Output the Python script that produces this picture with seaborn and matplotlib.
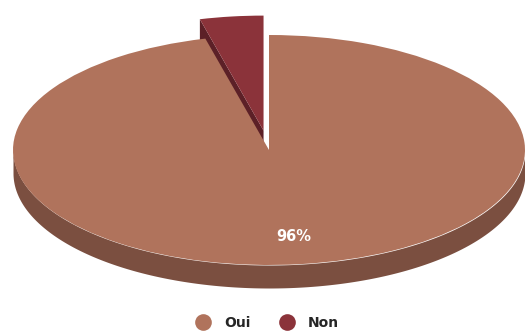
import numpy as np
import matplotlib
matplotlib.use("Agg")
import matplotlib.pyplot as plt
from matplotlib.lines import Line2D
from matplotlib.patches import Polygon
import seaborn as sns

# Survey answers (percent)
categories = ["Oui", "Non"]
shares = [96, 4]
explode = [0.0, 0.17]

top_colors = ["#B0735C", "#8B333A"]
side_colors = ["#7B4F40", "#5C2027"]

sns.set_theme(style="white")
plt.rcParams["font.family"] = ["DejaVu Sans"]

W, H = 525, 331
fig = plt.figure(figsize=(W / 100, H / 100), dpi=100)
ax = fig.add_axes([0, 0, 1, 1])

# Ellipse geometry of the tilted disc (pixels)
cx, cy, rx, ry = 269, 150, 256, 115
depth = 23 / ry  # thickness in data units

start = 90
total = sum(shares)

# Side wall of the front half of the disc
th = np.linspace(np.pi, 2 * np.pi, 400)
xs, ys = np.cos(th), np.sin(th)
ax.fill_between(xs, ys - depth, ys, color=side_colors[0], lw=0, zorder=1)

# Cut face of the exploded slice along its left radial edge.
# Slices run clockwise from the top, so the last slice sits just left of 12 o'clock.
for i, (v, e) in enumerate(zip(shares, explode)):
    if e == 0:
        continue
    lo = start
    hi = start + 360 * v / total
    mid = np.deg2rad((lo + hi) / 2)
    c = np.array([e * np.cos(mid), e * np.sin(mid)])
    edge = np.deg2rad(hi)
    rim = c + np.array([np.cos(edge), np.sin(edge)])
    quad = [c, rim, rim - [0, depth], c - [0, depth]]
    ax.add_patch(Polygon(quad, closed=True, color=side_colors[i], lw=0, zorder=2))

wedges, texts, autotexts = ax.pie(
    shares,
    explode=explode,
    colors=top_colors,
    startangle=start,
    counterclock=False,
    autopct=lambda p: f"{p:.0f}%" if p > 50 else "",
    pctdistance=0.76,
    wedgeprops=dict(linewidth=0),
    textprops=dict(color="white", fontsize=10.5, fontweight="bold"),
)
for w in wedges:
    w.set_zorder(3)
for t in autotexts:
    t.set_zorder(4)

ax.set_aspect("auto")
ax.set_xlim(-cx / rx, (W - cx) / rx)
ax.set_ylim((cy - H) / ry, cy / ry)
ax.axis("off")

handles = [
    Line2D([], [], marker="o", linestyle="none", markersize=12,
           markerfacecolor=col, markeredgewidth=0, label=lab)
    for col, lab in zip(top_colors, categories)
]
fig.legend(
    handles=handles, loc="center", bbox_to_anchor=(0.508, 8 / H), ncol=2,
    frameon=False, prop=dict(weight="bold", size=10),
    handletextpad=0.9, columnspacing=2.0, handlelength=1.2,
)

fig.savefig("out.png", dpi=100, facecolor="white")
